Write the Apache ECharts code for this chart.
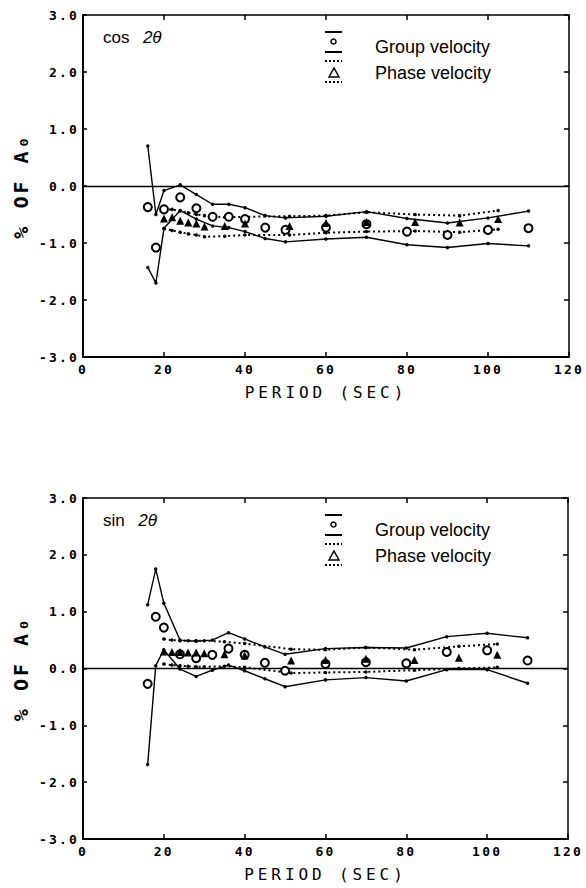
<!DOCTYPE html>
<html><head><meta charset="utf-8">
<script src="https://cdn.jsdelivr.net/npm/echarts@6/dist/echarts.min.js"></script>
<style>html,body{margin:0;padding:0;background:#fff}#c{width:586px;height:888px}</style>
</head><body><div id="c"></div>
<script>
// ---------------- data ----------------
const xTickMin = 0, xTickMax = 120, xTickStep = 20;
const yTickMin = -3, yTickMax = 3, yTickStep = 1;

const cosGroupPeriods = [16,18,20,24,28,32,36,40,45,50,60,70,80,90,100,110];
const cosGroupMean  = [-0.37,-1.08,-0.41,-0.20,-0.39,-0.54,-0.54,-0.58,-0.73,-0.77,-0.73,-0.67,-0.80,-0.86,-0.77,-0.74];
const cosGroupUpper = [0.70,-0.50,-0.08,0.02,-0.15,-0.32,-0.32,-0.38,-0.52,-0.56,-0.53,-0.45,-0.57,-0.65,-0.56,-0.44];
const cosGroupLower = [-1.43,-1.70,-0.74,-0.43,-0.58,-0.70,-0.73,-0.80,-0.92,-0.98,-0.93,-0.90,-1.03,-1.08,-1.01,-1.05];

const cosPhasePeriods = [20,22,24,26,28,30,35,40,51,60,70,82,93,102.5];
const cosPhaseMean  = [-0.57,-0.55,-0.61,-0.64,-0.66,-0.71,-0.70,-0.66,-0.70,-0.65,-0.63,-0.63,-0.64,-0.58];
const cosPhaseUpper = [-0.42,-0.41,-0.44,-0.47,-0.50,-0.52,-0.55,-0.54,-0.53,-0.52,-0.46,-0.50,-0.52,-0.43];
const cosPhaseLower = [-0.75,-0.78,-0.81,-0.84,-0.86,-0.89,-0.88,-0.86,-0.86,-0.82,-0.80,-0.79,-0.81,-0.76];

const sinGroupPeriods = [16,18,20,24,28,32,36,40,45,50,60,70,80,90,100,110];
const sinGroupMean  = [-0.27,0.91,0.72,0.25,0.18,0.24,0.35,0.24,0.10,-0.04,0.08,0.11,0.09,0.29,0.32,0.14];
const sinGroupUpper = [1.12,1.75,1.15,0.50,0.48,0.50,0.63,0.52,0.38,0.25,0.35,0.37,0.36,0.56,0.62,0.54];
const sinGroupLower = [-1.69,0.05,0.33,-0.01,-0.14,-0.03,0.06,-0.04,-0.18,-0.32,-0.20,-0.16,-0.22,-0.02,-0.02,-0.26];

const sinPhasePeriods = [20,22,24,26,28,30,35,40,51.5,60,70,82,93,102.5];
const sinPhaseMean  = [0.30,0.29,0.29,0.28,0.28,0.27,0.25,0.23,0.14,0.15,0.17,0.15,0.19,0.24];
const sinPhaseUpper = [0.52,0.50,0.49,0.49,0.49,0.49,0.47,0.44,0.34,0.33,0.37,0.33,0.39,0.43];
const sinPhaseLower = [0.08,0.06,0.05,0.04,0.03,0.03,0.04,0.02,-0.08,-0.07,-0.06,-0.03,0.00,0.02];

const panelTitles = ['cos', 'sin'];
const xAxisTitle = 'PERIOD (SEC)';
const yAxisTitle = '% OF A\u2080';
const legendNames = ['Group velocity', 'Phase velocity'];

// ---------------- chart ----------------
const pairs = (xs, ys) => xs.map((x, i) => [x, ys[i]]);
const MONO = 'DejaVu Sans Mono';
const SANS = 'Liberation Sans';
const grids = [
  {left: 83, top: 15, width: 486, height: 342},
  {left: 83, top: 498, width: 485, height: 341}
];

const xAxes = [], yAxes = [];
grids.forEach((g, gi) => {
  xAxes.push({
    gridIndex: gi, type: 'value', min: xTickMin, max: xTickMax, interval: xTickStep, position: 'bottom',
    axisLine: {onZero: false, lineStyle: {color: '#000', width: 2}},
    axisTick: {inside: true, length: 5, lineStyle: {color: '#000', width: 1.5}},
    axisLabel: {color: '#000', fontFamily: MONO, fontWeight: 'bold', fontSize: 13, margin: 6, formatter: v => String(v)},
    splitLine: {show: false},
    name: xAxisTitle, nameLocation: 'middle', nameGap: 27,
    nameTextStyle: {color: '#000', fontFamily: MONO, fontSize: 16}
  });
  xAxes.push({
    gridIndex: gi, type: 'value', min: xTickMin, max: xTickMax, interval: xTickStep, position: 'top',
    axisLine: {onZero: false, lineStyle: {color: '#000', width: 1.5}},
    axisTick: {inside: true, length: 5, lineStyle: {color: '#000', width: 1.5}},
    axisLabel: {show: false}, splitLine: {show: false}
  });
  yAxes.push({
    gridIndex: gi, type: 'value', min: yTickMin, max: yTickMax, interval: yTickStep, position: 'left',
    axisLine: {onZero: false, lineStyle: {color: '#000', width: 2}},
    axisTick: {inside: true, length: 4, lineStyle: {color: '#000', width: 1.5}},
    axisLabel: {color: '#000', fontFamily: MONO, fontWeight: 'bold', fontSize: 13, margin: 4, formatter: v => v.toFixed(1)},
    splitLine: {show: false},
    name: yAxisTitle, nameLocation: 'middle', nameRotate: 90, nameGap: 52,
    nameTextStyle: {color: '#000', fontFamily: MONO, fontSize: 20, fontWeight: 'bold'}
  });
  yAxes.push({
    gridIndex: gi, type: 'value', min: yTickMin, max: yTickMax, interval: yTickStep, position: 'right',
    axisLine: {onZero: false, lineStyle: {color: '#000', width: 1.5}},
    axisTick: {inside: true, length: 5, lineStyle: {color: '#000', width: 1.5}},
    axisLabel: {show: false}, splitLine: {show: false}
  });
});

function panelSeries(gi, gp, gm, gu, gl, pp, pm, pu, pl) {
  const xi = gi * 2, yi = gi * 2;
  const solid = data => ({
    type: 'line', xAxisIndex: xi, yAxisIndex: yi, data, symbol: 'circle', symbolSize: 3.5,
    lineStyle: {color: '#000', width: 1.4}, itemStyle: {color: '#000'}, z: 3, silent: true
  });
  const dotted = data => ({
    type: 'line', xAxisIndex: xi, yAxisIndex: yi, data, symbol: 'circle', symbolSize: 3.5,
    lineStyle: {color: '#000', width: 2, type: [2, 3]}, itemStyle: {color: '#000'}, z: 3, silent: true
  });
  const s1 = solid(pairs(gp, gu));
  s1.markLine = {silent: true, symbol: 'none', label: {show: false},
    lineStyle: {color: '#000', width: 1.4, type: 'solid'}, data: [{yAxis: 0}]};
  return [
    s1,
    solid(pairs(gp, gl)),
    dotted(pairs(pp, pu)),
    dotted(pairs(pp, pl)),
    {type: 'scatter', xAxisIndex: xi, yAxisIndex: yi, data: pairs(gp, gm), symbol: 'emptyCircle', symbolSize: 8,
     itemStyle: {color: '#000', borderColor: '#000', borderWidth: 1.6, opacity: 1}, z: 5, silent: true},
    {type: 'scatter', xAxisIndex: xi, yAxisIndex: yi, data: pairs(pp, pm), symbol: 'triangle', symbolSize: 8,
     itemStyle: {color: '#000', opacity: 1}, z: 6, silent: true}
  ];
}

const series = [
  ...panelSeries(0, cosGroupPeriods, cosGroupMean, cosGroupUpper, cosGroupLower,
                 cosPhasePeriods, cosPhaseMean, cosPhaseUpper, cosPhaseLower),
  ...panelSeries(1, sinGroupPeriods, sinGroupMean, sinGroupUpper, sinGroupLower,
                 sinPhasePeriods, sinPhaseMean, sinPhaseUpper, sinPhaseLower)
];

const graphics = [];
grids.forEach((g, gi) => {
  const P = g.top;
  graphics.push(
    {type: 'text', left: 103, top: P + 14, style: {
      text: '{a|' + panelTitles[gi] + '}  {b|2\u03b8}',
      font: '17px "Liberation Sans"', fill: '#000',
      rich: {a: {fontFamily: SANS, fontSize: 17, fill: '#000'},
             b: {fontFamily: SANS, fontSize: 17, fontStyle: 'italic', fill: '#000', padding: [0, 0, 0, 4]}}}},
    {type: 'line', shape: {x1: 325, y1: P + 17, x2: 342, y2: P + 17}, style: {stroke: '#000', lineWidth: 2}},
    {type: 'circle', shape: {cx: 333.5, cy: P + 26.5, r: 2.5}, style: {stroke: '#000', fill: '#fff', lineWidth: 1.5}},
    {type: 'line', shape: {x1: 325, y1: P + 37, x2: 342, y2: P + 37}, style: {stroke: '#000', lineWidth: 2}},
    {type: 'text', x: 375, y: P + 31.5, style: {text: legendNames[0], font: '18px "Liberation Sans"', fill: '#000', textVerticalAlign: 'middle'}},
    {type: 'line', shape: {x1: 325, y1: P + 46, x2: 342, y2: P + 46}, style: {stroke: '#000', lineWidth: 2, lineDash: [2, 2]}},
    {type: 'polygon', shape: {points: [[329, P + 62], [339, P + 62], [334, P + 53]]}, style: {stroke: '#000', fill: '#fff', lineWidth: 1.5}},
    {type: 'line', shape: {x1: 325, y1: P + 67, x2: 342, y2: P + 67}, style: {stroke: '#000', lineWidth: 2, lineDash: [2, 2]}},
    {type: 'text', x: 375, y: P + 58, style: {text: legendNames[1], font: '18px "Liberation Sans"', fill: '#000', textVerticalAlign: 'middle'}}
  );
});

const dom = document.getElementById('c');
const chart = echarts.init(dom, null, {renderer: 'svg'});
chart.setOption({
  animation: false,
  backgroundColor: '#fff',
  grid: grids,
  xAxis: xAxes,
  yAxis: yAxes,
  series,
  graphic: graphics
});

function applySpacing() {
  dom.querySelectorAll('text').forEach(t => {
    const s = t.textContent;
    if (s === xAxisTitle) t.setAttribute('letter-spacing', '3.9');
    else if (s === yAxisTitle) t.setAttribute('letter-spacing', '3');
    else if (/^-?\d+(\.\d)?$/.test(s)) t.setAttribute('letter-spacing', '2.2');
  });
}
applySpacing();
chart.on('finished', applySpacing);
setTimeout(applySpacing, 50);
</script></body></html>
